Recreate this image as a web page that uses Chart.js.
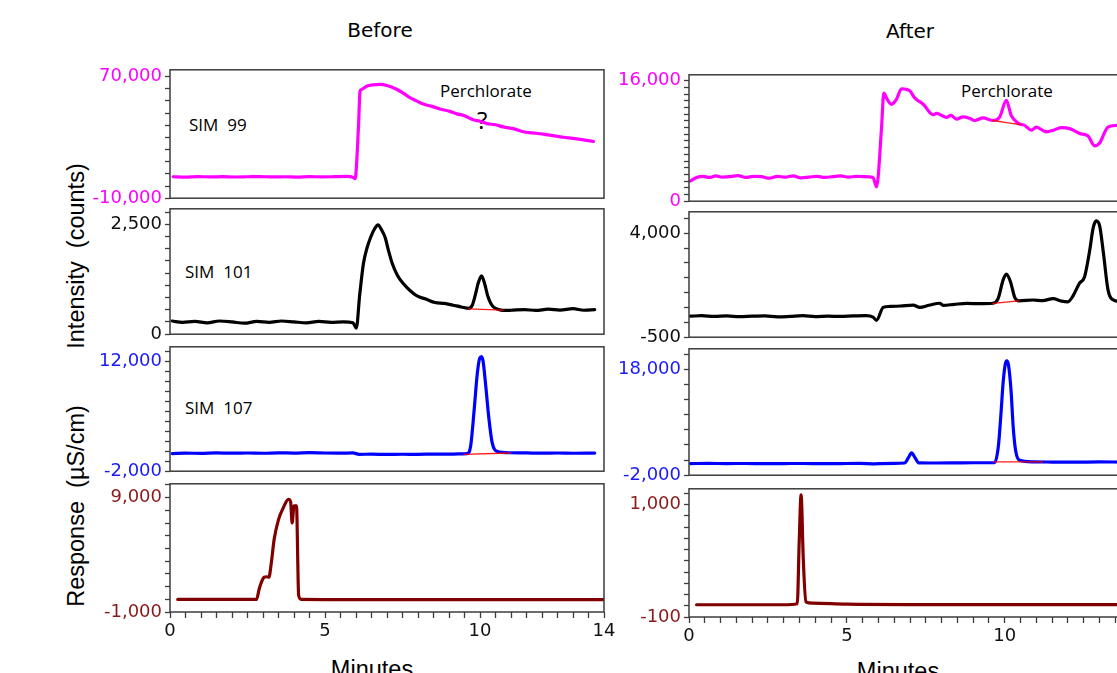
<!DOCTYPE html>
<html lang="en">
<head>
<meta charset="UTF-8">
<title>SIM chromatograms before / after</title>
<script src="https://cdn.jsdelivr.net/npm/chart.js"></script>
<style>
  body {
    margin: 0;
    width: 1117px;
    height: 673px;
    overflow: hidden;
    position: relative;
    background: #fff;
    font-family: "Liberation Sans", Arial, sans-serif;
    color: #000;
  }
  .panel { position: absolute; }
  .title {
    position: absolute;
    font-family: "DejaVu Sans", sans-serif;
    font-size: 20px;
    line-height: 24px;
    transform: translateX(-50%);
  }
  .axis-title {
    position: absolute;
    font-size: 23.5px;
    line-height: 28px;
    white-space: pre;
    transform: translate(-50%, -50%) rotate(-90deg);
  }
  .minutes {
    position: absolute;
    font-size: 23.5px;
    line-height: 28px;
    transform: translateX(-50%);
  }
  .note {
    position: absolute;
    font-family: "Open Sans", sans-serif;
    font-size: 17px;
    line-height: 20px;
    white-space: pre;
  }
</style>
</head>
<body>
  <div class="title" style="left:380px; top:18px;">Before</div>
  <div class="title" style="left:910px; top:19px;">After</div>

  <div class="axis-title" style="left:76px; top:256px;">Intensity  (counts)</div>
  <div class="axis-title" style="left:76px; top:506px;">Response  (µS/cm)</div>

  <div class="minutes" style="left:372px; top:655px;">Minutes</div>
  <div class="minutes" style="left:898px; top:657px;">Minutes</div>

  <div class="note" style="left:189px; top:115px;">SIM  99</div>
  <div class="note" style="left:185px; top:262px;">SIM  101</div>
  <div class="note" style="left:185px; top:398px;">SIM  107</div>
  <div class="note" style="left:440px; top:81px;">Perchlorate</div>
  <div class="note" style="left:477px; top:108px; font-size:24px; line-height:24px;">?</div>
  <div class="note" style="left:961px; top:81px;">Perchlorate</div>

<script>
// x axis (minutes): labelled ticks
const minuteLabels = [0, 5, 10, 14];

// ---- Before ----
// SIM 99
const b99T = [0.1, 0.5, 0.9, 1.3, 1.7, 2.1, 2.5, 2.9, 3.3, 3.7, 4.1, 4.5, 4.9, 5.3, 5.7, 5.9, 5.97, 6.08, 6.13, 6.18, 6.34, 6.55, 6.77, 7.0, 7.31, 7.55, 7.74, 7.95, 8.17, 8.45, 8.71, 9.0, 9.25, 9.5, 9.78, 10.0, 10.22, 10.5, 10.75, 11.1, 11.4, 11.7, 12.04, 12.35, 12.69, 13.0, 13.33, 13.66];
const b99V = [4100, 3900, 4200, 4000, 4150, 3950, 4100, 4250, 4000, 4100, 3900, 4200, 4050, 4150, 4300, 3800, 2800, 36900, 60400, 61500, 63600, 64600, 64900, 64200, 61700, 58800, 56100, 54000, 51900, 50400, 48700, 47300, 45500, 44200, 41600, 40600, 39100, 38300, 36900, 35600, 33700, 33000, 32200, 31200, 30100, 29400, 28400, 27300];
const b99Labels = [-10000, 70000];

// SIM 101
const b101T = [0.07, 0.4, 0.8, 1.2, 1.6, 2.0, 2.4, 2.8, 3.2, 3.6, 4.0, 4.4, 4.8, 5.2, 5.6, 5.9, 6.01, 6.12, 6.24, 6.35, 6.47, 6.6, 6.71, 6.82, 6.94, 7.05, 7.17, 7.33, 7.51, 7.75, 7.97, 8.25, 8.55, 8.85, 9.13, 9.4, 9.64, 9.75, 9.84, 9.95, 10.05, 10.15, 10.25, 10.35, 10.45, 10.6, 10.74, 11.0, 11.43, 11.8, 12.2, 12.58, 13.0, 13.35, 13.7];
const b101V = [300, 270, 290, 260, 300, 280, 250, 290, 270, 300, 280, 260, 290, 270, 280, 260, 140, 900, 1610, 1950, 2200, 2400, 2490, 2380, 2200, 1900, 1610, 1350, 1165, 990, 870, 800, 720, 700, 660, 620, 590, 660, 870, 1180, 1330, 1150, 870, 700, 610, 560, 540, 545, 560, 540, 570, 550, 580, 545, 560];
const b101BaseT = [9.62, 10.75];
const b101BaseV = [575, 548];
const b101Labels = [0, 2500];

// SIM 107
const b107T = [0.07, 0.5, 1.0, 1.5, 2.0, 2.5, 3.0, 3.5, 4.0, 4.5, 5.0, 5.5, 5.9, 6.1, 6.5, 7.0, 7.5, 8.0, 8.5, 9.0, 9.3, 9.58, 9.7, 9.82, 9.91, 9.99, 10.05, 10.1, 10.18, 10.28, 10.39, 10.56, 10.97, 11.5, 12.0, 12.5, 13.0, 13.7];
const b107V = [250, 300, 280, 330, 300, 320, 290, 340, 310, 360, 320, 300, 330, 150, 170, 140, 160, 150, 180, 170, 200, 230, 1260, 6200, 10350, 12400, 12620, 12000, 9100, 4970, 1680, 520, 350, 330, 300, 320, 290, 310];
const b107BaseT = [9.47, 10.97];
const b107BaseV = [150, 320];
const b107Labels = [-2000, 12000];

// conductivity
const bCondT = [0.25, 1.0, 2.0, 2.79, 2.88, 2.96, 3.04, 3.12, 3.19, 3.27, 3.36, 3.5, 3.65, 3.82, 3.89, 3.94, 4.0, 4.08, 4.15, 4.23, 5.0, 6.0, 8.0, 10.0, 12.0, 14.0];
const bCondV = [100, 100, 100, 100, 1040, 1670, 2040, 2080, 2040, 3340, 5350, 7080, 8080, 8850, 8650, 6780, 8280, 8280, 465, 100, 90, 80, 80, 80, 80, 80];
const bCondLabels = [-1000, 9000];

// ---- After ----
// SIM 99
const a99T = [0.05, 0.24, 0.45, 0.65, 0.85, 1.05, 1.3, 1.55, 1.8, 2.05, 2.3, 2.55, 2.8, 3.05, 3.3, 3.55, 3.8, 4.05, 4.3, 4.55, 4.8, 5.05, 5.3, 5.55, 5.83, 5.94, 6.1, 6.17, 6.28, 6.41, 6.57, 6.73, 6.99, 7.15, 7.42, 7.73, 7.84, 8.16, 8.3, 8.47, 8.68, 8.89, 9.05, 9.31, 9.63, 9.84, 10.05, 10.21, 10.42, 10.63, 10.85, 11.0, 11.32, 11.53, 11.79, 12.06, 12.37, 12.64, 12.85, 13.0, 13.27, 13.54, 13.7];
const a99V = [2700, 3150, 3300, 3150, 3350, 3200, 3250, 3400, 3150, 3300, 3250, 3050, 3300, 3200, 3350, 3100, 3200, 3300, 3150, 3250, 3350, 3200, 3300, 3250, 3150, 1890, 9840, 14360, 13500, 12860, 13500, 14920, 14660, 13710, 12860, 11480, 11650, 11130, 11400, 10880, 11200, 11000, 10710, 11050, 10710, 11150, 13380, 11350, 10360, 10060, 9420, 9840, 9200, 9400, 9760, 9630, 8990, 8640, 7350, 7700, 9840, 10060, 10100];
const a99BaseT = [9.63, 10.5];
const a99BaseV = [10710, 10150];
const a99Labels = [0, 16000];

// SIM 101
const a101T = [0.05, 0.4, 0.8, 1.2, 1.6, 2.0, 2.4, 2.8, 3.2, 3.6, 4.0, 4.4, 4.8, 5.2, 5.6, 5.83, 5.94, 6.15, 6.36, 6.7, 7.1, 7.31, 7.6, 7.94, 8.05, 8.4, 8.79, 9.2, 9.63, 9.79, 9.95, 10.05, 10.18, 10.32, 10.45, 10.9, 11.2, 11.53, 11.8, 12.0, 12.16, 12.37, 12.53, 12.69, 12.8, 12.9, 13.01, 13.13, 13.27, 13.4, 13.7];
const a101V = [410, 430, 400, 420, 390, 410, 420, 380, 400, 430, 390, 410, 400, 420, 430, 370, 230, 790, 830, 850, 890, 790, 880, 970, 880, 920, 960, 950, 970, 1170, 1980, 2230, 1910, 1210, 1070, 1110, 1080, 1170, 1060, 1030, 1280, 1840, 2120, 3240, 4220, 4530, 4300, 3100, 1560, 1140, 1030];
const a101BaseT = [9.63, 10.45];
const a101BaseV = [960, 1070];
const a101Labels = [-500, 4000];

// SIM 107
const a107T = [0.05, 0.6, 1.2, 1.8, 2.4, 3.0, 3.6, 4.2, 4.8, 5.4, 5.9, 6.1, 6.5, 6.83, 6.95, 7.05, 7.16, 7.28, 7.8, 8.4, 9.0, 9.68, 9.8, 9.88, 9.95, 10.02, 10.07, 10.12, 10.2, 10.27, 10.35, 10.47, 10.9, 11.5, 12.2, 13.0, 13.7];
const a107V = [200, 220, 200, 210, 190, 200, 210, 180, 200, 220, 150, 200, 250, 300, 1300, 2220, 1300, 330, 300, 320, 350, 385, 3500, 9500, 15500, 19000, 19600, 18800, 14000, 7000, 2500, 810, 515, 480, 450, 500, 480];
const a107BaseT = [9.66, 11.2];
const a107BaseV = [500, 500];
const a107Labels = [-2000, 18000];

// conductivity
const aCondT = [0.24, 1.0, 2.0, 3.0, 3.43, 3.49, 3.55, 3.62, 3.7, 3.92, 5.0, 7.0, 10.0, 14.0];
const aCondV = [20, 20, 20, 20, 30, 627, 1094, 466, 48, 35, 25, 22, 22, 22];
const aCondLabels = [-100, 1000];

Chart.defaults.font.family = '"DejaVu Sans", sans-serif';
Chart.defaults.animation = false;

const frame = {
  id: 'frame',
  afterDraw(chart) {
    const a = chart.chartArea;
    const ctx = chart.ctx;
    ctx.save();
    ctx.strokeStyle = '#3c3c3c';
    ctx.lineWidth = 1.5;
    ctx.strokeRect(a.left, a.top, a.right - a.left, a.bottom - a.top);
    ctx.restore();
  }
};

function pts(t, v) {
  return t.map((x, i) => ({ x: x, y: v[i] }));
}

const xTicks = [];
for (let i = 0; i <= 28; i++) xTicks.push(i * 0.5);

function panel(p) {
  const axisW = 100, padT = 12, padR = 16;
  const xH = p.bottom ? 40 : 0;
  const padB = p.bottom ? 0 : 12;

  const div = document.createElement('div');
  div.className = 'panel';
  div.style.left = (p.left - axisW) + 'px';
  div.style.top = (p.top - padT) + 'px';
  div.style.width = (axisW + p.w + padR) + 'px';
  div.style.height = (padT + p.h + padB + xH) + 'px';
  const cv = document.createElement('canvas');
  div.appendChild(cv);
  document.body.appendChild(div);

  const lo = p.labels[0], hi = p.labels[1];
  const step = (hi - lo) / p.n;
  const yTicks = [];
  for (let i = 0; lo + i * step <= p.yMax + 1e-6; i++) yTicks.push(lo + i * step);

  const datasets = [];
  if (p.base) {
    datasets.push({ data: pts(p.base[0], p.base[1]), borderColor: 'rgba(255,0,0,0.9)', borderWidth: 1.3, order: 0 });
  }
  datasets.push({ data: pts(p.t, p.v), borderColor: p.color, borderWidth: 3.2, order: 1 });

  new Chart(cv, {
    type: 'line',
    data: { datasets: datasets },
    options: {
      responsive: true,
      maintainAspectRatio: false,
      layout: { padding: { top: padT, right: padR, bottom: padB, left: 0 } },
      elements: {
        point: { radius: 0 },
        line: { cubicInterpolationMode: 'monotone', borderJoinStyle: 'round', borderCapStyle: 'round' }
      },
      plugins: { legend: { display: false }, tooltip: { enabled: false } },
      scales: {
        x: {
          type: 'linear',
          min: 0,
          max: 14,
          display: !!p.bottom,
          afterBuildTicks: s => { s.ticks = xTicks.map(v => ({ value: v })); },
          afterFit: s => { s.height = xH; },
          grid: { drawOnChartArea: false, tickLength: 6, tickColor: '#3c3c3c', tickWidth: 1.3 },
          border: { display: false },
          ticks: {
            autoSkip: false, maxRotation: 0, minRotation: 0, padding: 3,
            color: '#111', font: { size: 18 },
            callback: v => minuteLabels.includes(v) ? String(v) : ''
          }
        },
        y: {
          type: 'linear',
          min: p.yMin,
          max: p.yMax,
          afterBuildTicks: s => { s.ticks = yTicks.map(v => ({ value: v })); },
          afterFit: s => { s.width = axisW; },
          grid: { drawOnChartArea: false, tickLength: 5, tickColor: '#3c3c3c', tickWidth: 1.3 },
          border: { display: false },
          ticks: {
            autoSkip: false, padding: 3,
            color: p.labelColor, font: { size: 18 },
            callback: v => {
              const l = p.labels.find(q => Math.abs(q - v) < 1e-6);
              return l === undefined ? '' : l.toLocaleString('en-US');
            }
          }
        }
      }
    },
    plugins: [frame]
  });
}

const MAGENTA = '#ff00ff', BLUE = '#0000ff', BROWN = '#800000';

// Before column
panel({ left: 170, top: 68, w: 434, h: 132, yMin: -10000, yMax: 74480, labels: b99Labels, n: 10,
        t: b99T, v: b99V, color: MAGENTA, labelColor: MAGENTA });
panel({ left: 170, top: 207, w: 434, h: 129, yMin: 0, yMax: 2854, labels: b101Labels, n: 9,
        t: b101T, v: b101V, base: [b101BaseT, b101BaseV], color: '#000', labelColor: '#111' });
panel({ left: 170, top: 345, w: 434, h: 128, yMin: -2000, yMax: 13858, labels: b107Labels, n: 11,
        t: b107T, v: b107V, base: [b107BaseT, b107BaseV], color: BLUE, labelColor: '#1a1aff' });
panel({ left: 170, top: 482, w: 434, h: 130, yMin: -1000, yMax: 10207, labels: bCondLabels, n: 9,
        t: bCondT, v: bCondV, color: BROWN, labelColor: '#8b1a1a', bottom: true });

// After column
panel({ left: 689, top: 73, w: 442, h: 130, yMin: 0, yMax: 16774, labels: a99Labels, n: 18,
        t: a99T, v: a99V, base: [a99BaseT, a99BaseV], color: MAGENTA, labelColor: MAGENTA });
panel({ left: 689, top: 210, w: 442, h: 129, yMin: -500, yMax: 4926, labels: a101Labels, n: 7,
        t: a101T, v: a101V, base: [a101BaseT, a101BaseV], color: '#000', labelColor: '#111' });
panel({ left: 689, top: 347, w: 442, h: 130, yMin: -2000, yMax: 21853, labels: a107Labels, n: 7,
        t: a107T, v: a107V, base: [a107BaseT, a107BaseV], color: BLUE, labelColor: '#1a1aff' });
panel({ left: 689, top: 487, w: 442, h: 130, yMin: -100, yMax: 1154, labels: aCondLabels, n: 10,
        t: aCondT, v: aCondV, color: BROWN, labelColor: '#8b1a1a', bottom: true });
</script>
</body>
</html>
